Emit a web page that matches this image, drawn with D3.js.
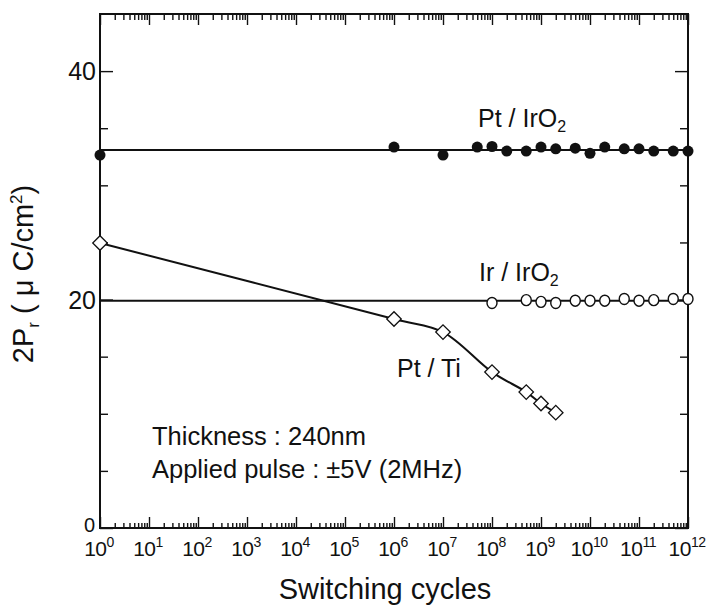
<!DOCTYPE html>
<html>
<head>
<meta charset="utf-8">
<script src="https://cdn.jsdelivr.net/npm/d3@7"></script>
<style>
  html, body { margin: 0; padding: 0; background: #fff; }
  svg { display: block; font-family: "Liberation Sans", Arial, Helvetica, sans-serif; }
</style>
</head>
<body>
<svg id="chart" width="713" height="610"></svg>
<script>
// ---- data ----
const ptIrO2Cycles = [1, 1e6, 1e7, 5e7, 1e8, 2e8, 5e8, 1e9, 2e9, 5e9, 1e10, 2e10, 5e10, 1e11, 2e11, 5e11, 1e12];
const ptIrO2Values = [32.65, 33.35, 32.65, 33.35, 33.4, 33.0, 33.0, 33.35, 33.2, 33.25, 32.8, 33.35, 33.2, 33.2, 33.0, 33.0, 33.0];
const ptIrO2Fit = [33.1, 33.1];

const irIrO2Cycles = [1e8, 5e8, 1e9, 2e9, 5e9, 1e10, 2e10, 5e10, 1e11, 2e11, 5e11, 1e12];
const irIrO2Values = [19.7, 19.95, 19.8, 19.7, 19.9, 19.9, 19.9, 20.05, 19.9, 19.95, 20.05, 20.05];
const irIrO2Fit = [19.9, 19.9];

const fitCycles = [1, 1e12];

const ptTiCycles = [1, 1e6, 1e7, 1e8, 5e8, 1e9, 2e9];
const ptTiValues = [24.95, 18.3, 17.15, 13.65, 11.9, 10.9, 10.1];

const xTickExponents = [0, 1, 2, 3, 4, 5, 6, 7, 8, 9, 10, 11, 12];
const xMinorMultipliers = [2, 3, 4, 5, 6, 7, 8, 9];
const yMajorTicks = [0, 20, 40];
const yMinorTicks = [5, 10, 15, 25, 30, 35];

// ---- layout ----
const svg = d3.select("#chart");
const x = d3.scaleLog().domain([1, 1e12]).range([100, 688]);
const y = d3.scaleLinear().domain([0, 45]).range([528, 14]);
const X0 = x.range()[0], X1 = x.range()[1], Y0 = y.range()[0], Y1 = y.range()[1];

const majorX = xTickExponents.map(e => Math.pow(10, e));
const minorX = [];
xTickExponents.slice(0, -1).forEach(e => xMinorMultipliers.forEach(m => minorX.push(m * Math.pow(10, e))));

function styleAxis(g) {
  g.select(".domain").remove();
  g.selectAll("line").attr("stroke", "#111").attr("stroke-width", 1.4);
}

// bottom ticks (inward)
svg.append("g").attr("transform", `translate(0,${Y0})`)
  .call(d3.axisBottom(x).tickValues(minorX).tickSize(-5).tickFormat(""))
  .call(styleAxis);
svg.append("g").attr("transform", `translate(0,${Y0})`)
  .call(d3.axisBottom(x).tickValues(majorX).tickSize(-11).tickFormat(""))
  .call(styleAxis);
// top ticks (inward)
svg.append("g").attr("transform", `translate(0,${Y1})`)
  .call(d3.axisTop(x).tickValues(minorX).tickSize(-6).tickFormat(""))
  .call(styleAxis);
svg.append("g").attr("transform", `translate(0,${Y1})`)
  .call(d3.axisTop(x).tickValues(majorX).tickSize(-11).tickFormat(""))
  .call(styleAxis);
// left ticks
svg.append("g").attr("transform", `translate(${X0},0)`)
  .call(d3.axisLeft(y).tickValues(yMinorTicks).tickSize(-8).tickFormat(""))
  .call(styleAxis);
svg.append("g").attr("transform", `translate(${X0},0)`)
  .call(d3.axisLeft(y).tickValues(yMajorTicks).tickSize(-13).tickFormat(""))
  .call(styleAxis);
// right ticks
svg.append("g").attr("transform", `translate(${X1},0)`)
  .call(d3.axisRight(y).tickValues(yMinorTicks).tickSize(-8).tickFormat(""))
  .call(styleAxis);
svg.append("g").attr("transform", `translate(${X1},0)`)
  .call(d3.axisRight(y).tickValues(yMajorTicks).tickSize(-13).tickFormat(""))
  .call(styleAxis);

// frame
svg.append("rect").attr("x", X0).attr("y", Y1).attr("width", X1 - X0).attr("height", Y0 - Y1)
  .attr("fill", "none").attr("stroke", "#111").attr("stroke-width", 2);

// x tick labels 10^n
const xl = svg.append("g").attr("font-size", 21).attr("fill", "#111");
xTickExponents.forEach(e => {
  const t = xl.append("text").attr("x", x(Math.pow(10, e)) - 1).attr("y", 556).attr("text-anchor", "middle")
    .attr("letter-spacing", -0.5);
  t.append("tspan").text("10");
  t.append("tspan").attr("dy", -9).attr("font-size", 14).text(String(e));
});

// y tick labels
svg.append("g").selectAll("text").data(yMajorTicks).join("text")
  .attr("x", d => d === 0 ? 95 : 96)
  .attr("y", d => d === 0 ? y(d) + 4 : y(d))
  .attr("dy", d => d === 0 ? 0 : "0.36em")
  .attr("text-anchor", "end")
  .attr("font-size", d => d === 0 ? 20 : 25).attr("fill", "#111").text(d => d);

// axis titles
svg.append("text").attr("x", 385).attr("y", 599).attr("text-anchor", "middle")
  .attr("font-size", 29).attr("fill", "#111").text("Switching cycles");

const yt = svg.append("text").attr("transform", "translate(33,274) rotate(-90)")
  .attr("text-anchor", "middle").attr("font-size", 29).attr("fill", "#111");
yt.append("tspan").text("2P");
yt.append("tspan").attr("font-size", 17).attr("dy", 6).text("r");
yt.append("tspan").attr("dy", -6).text(" ( μ C/cm");
yt.append("tspan").attr("font-size", 17).attr("dy", -11).text("2");
yt.append("tspan").attr("dy", 11).text(")");

// lines
const line = d3.line().x(d => x(d[0])).y(d => y(d[1]));
svg.append("path").datum(fitCycles.map((c, i) => [c, ptIrO2Fit[i]]))
  .attr("d", line).attr("fill", "none").attr("stroke", "#111").attr("stroke-width", 2);
svg.append("path").datum(fitCycles.map((c, i) => [c, irIrO2Fit[i]]))
  .attr("d", line).attr("fill", "none").attr("stroke", "#111").attr("stroke-width", 2);
svg.append("path").datum(ptTiCycles.map((c, i) => [c, ptTiValues[i]]))
  .attr("d", d3.line().x(d => x(d[0])).y(d => y(d[1])).curve(d3.curveCatmullRom.alpha(0.5)))
  .attr("fill", "none").attr("stroke", "#111").attr("stroke-width", 2);

// markers
svg.append("g").selectAll("circle").data(ptIrO2Cycles.map((c, i) => [c, ptIrO2Values[i]])).join("circle")
  .attr("cx", d => x(d[0])).attr("cy", d => y(d[1])).attr("r", 5.5).attr("fill", "#111");

svg.append("g").selectAll("ellipse").data(irIrO2Cycles.map((c, i) => [c, irIrO2Values[i]])).join("ellipse")
  .attr("cx", d => x(d[0])).attr("cy", d => y(d[1])).attr("rx", 5).attr("ry", 5.5)
  .attr("fill", "#fff").attr("stroke", "#111").attr("stroke-width", 1.4);

const diamond = d3.symbol().type(d3.symbolSquare).size(105);
svg.append("g").selectAll("path").data(ptTiCycles.map((c, i) => [c, ptTiValues[i]])).join("path")
  .attr("d", diamond)
  .attr("transform", d => `translate(${x(d[0])},${y(d[1])}) rotate(45)`)
  .attr("fill", "#fff").attr("stroke", "#111").attr("stroke-width", 1.3);

// series labels
function subLabel(px, py, main, sub) {
  const t = svg.append("text").attr("x", px).attr("y", py).attr("font-size", 25).attr("fill", "#111");
  t.append("tspan").text(main);
  if (sub) t.append("tspan").attr("font-size", 16).attr("dy", 5).text(sub);
}
subLabel(478, 127, "Pt / IrO", "2");
subLabel(479, 281, "Ir / IrO", "2");
subLabel(397, 377, "Pt / Ti", null);

// conditions
svg.append("text").attr("x", 152).attr("y", 445).attr("font-size", 25.5).attr("fill", "#111")
  .text("Thickness : 240nm");
svg.append("text").attr("x", 152).attr("y", 478).attr("font-size", 25.5).attr("fill", "#111")
  .text("Applied pulse : ±5V (2MHz)");
</script>
</body>
</html>
